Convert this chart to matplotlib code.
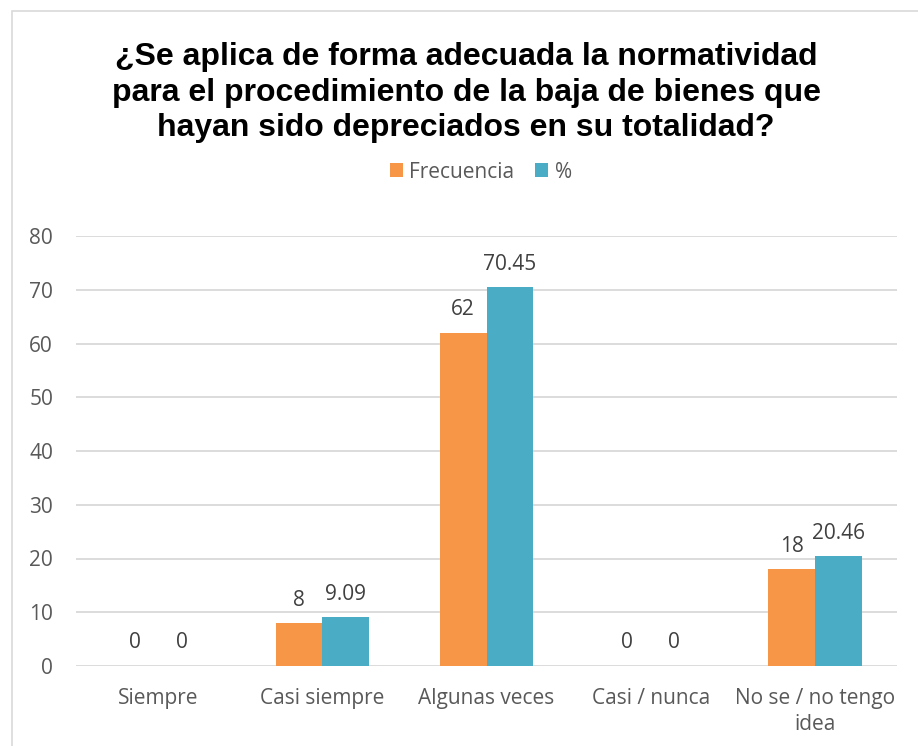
import numpy as np
import matplotlib.pyplot as plt
from matplotlib.patches import Rectangle

categorias = ["Siempre", "Casi siempre", "Algunas veces", "Casi / nunca", "No se / no tengo\nidea"]
frecuencia = [0, 8, 62, 0, 18]
porcentaje = [0, 9.09, 70.45, 0, 20.46]
etiq_frec = ["0", "8", "62", "0", "18"]
etiq_pct = ["0", "9.09", "70.45", "0", "20.46"]
yticks = [0, 10, 20, 30, 40, 50, 60, 70, 80]

naranja = '#F79646'
azul = '#4BACC6'
gris = '#595959'
fuente = 'Open Sans'

fig = plt.figure(figsize=(9.18, 7.46), dpi=100)
# marco del gráfico (sale por la derecha y por abajo)
fig.patches.append(Rectangle((12 / 918, -0.1), 1.0, 1.1 - 11 / 746, transform=fig.transFigure,
                             fill=False, edgecolor='#D9D9D9', linewidth=1.2))

ax = fig.add_axes([76 / 918, (746 - 666) / 746, (897 - 76) / 918, (666 - 236) / 746])

x = np.arange(len(categorias))
w = 0.285
ax.bar(x - w / 2, frecuencia, w, color=naranja, label='Frecuencia', zorder=3)
ax.bar(x + w / 2, porcentaje, w, color=azul, label='%', zorder=3)

for i in range(len(x)):
    ax.annotate(etiq_frec[i], (x[i] - w / 2, frecuencia[i]), xytext=(0, 9), textcoords='offset points',
                ha='center', va='bottom', fontsize=15, color='#404040', family=fuente)
    ax.annotate(etiq_pct[i], (x[i] + w / 2, porcentaje[i]), xytext=(0, 9), textcoords='offset points',
                ha='center', va='bottom', fontsize=15, color='#404040', family=fuente)

ax.set_xlim(-0.5, len(x) - 0.5)
ax.set_ylim(0, 80)
ax.set_yticks(yticks)
ax.set_xticks(x)
ax.set_xticklabels(categorias, fontsize=15, color=gris, family=fuente, linespacing=1.28)
ax.set_yticklabels([str(v) for v in yticks], fontsize=15, color=gris, family=fuente)
ax.tick_params(axis='y', length=0, pad=16.5)
ax.tick_params(axis='x', length=0, pad=16)
ax.grid(axis='y', color='#D9D9D9', linewidth=1.3, zorder=0)
for s in ax.spines.values():
    s.set_visible(False)

fig.text(466 / 918, 1 - 136 / 746,
         '¿Se aplica de forma adecuada la normatividad\npara el procedimiento de la baja de bienes que\n'
         'hayan sido depreciados en su totalidad?',
         ha='center', va='baseline', fontsize=23, fontweight='bold',
         family='Liberation Sans', linespacing=1.23)

fig.legend(loc='center', bbox_to_anchor=(481 / 918, 1 - 172 / 746), ncol=2, frameon=False,
           prop={'family': fuente, 'size': 15}, labelcolor=gris, handlelength=0.62, handleheight=0.62,
           handletextpad=0.3, columnspacing=1.0)

fig.savefig('out.png', dpi=100)
